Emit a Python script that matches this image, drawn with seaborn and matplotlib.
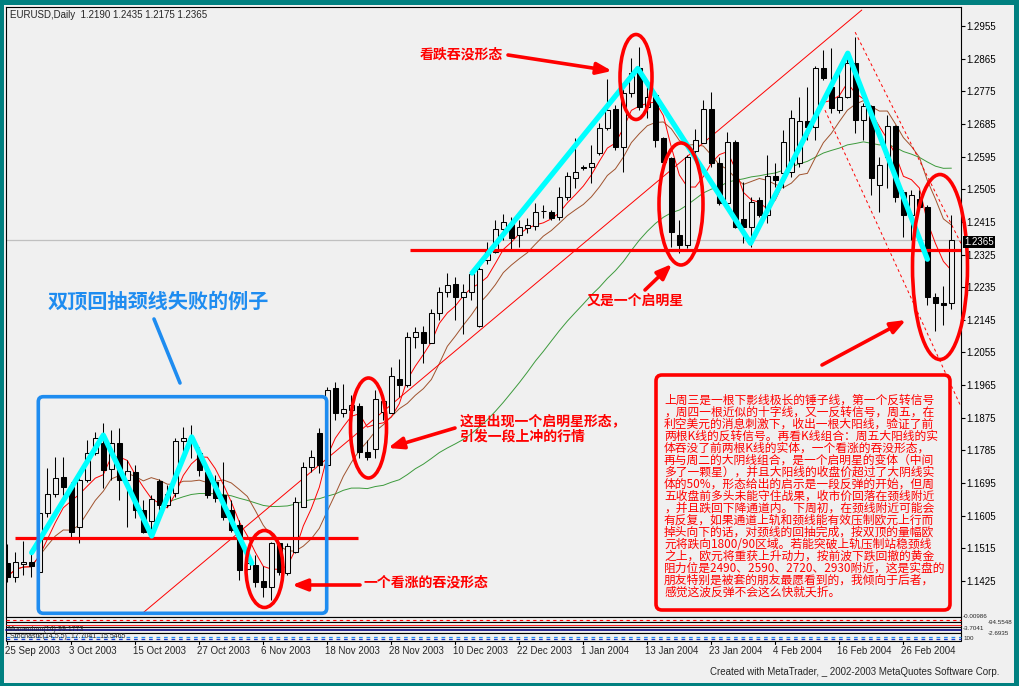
import numpy as np
import pandas as pd
import matplotlib
matplotlib.use('Agg')
import matplotlib.pyplot as plt
from matplotlib.patches import Ellipse, FancyBboxPatch, Rectangle
import seaborn as sns

# EURUSD daily, 25 Sep 2003 .. 27 Feb 2004
opens = [1.1474, 1.1437, 1.1473, 1.1476, 1.1451, 1.1612, 1.1664, 1.1711, 1.1683, 1.1575,
         1.1703, 1.1777, 1.1806, 1.1733, 1.1806, 1.1703, 1.1726, 1.1621, 1.1589, 1.1701,
         1.1635, 1.1667, 1.1812, 1.1818, 1.1777, 1.1726, 1.1699, 1.1662, 1.1621, 1.1579,
         1.1458, 1.1469, 1.1425, 1.1409, 1.1529, 1.1448, 1.1506, 1.1630, 1.1740, 1.1832,
         1.1745, 1.1956, 1.1889, 1.1896, 1.1907, 1.1781, 1.1790, 1.1890, 1.1889, 1.1983,
         1.1965, 1.2098, 1.2112, 1.2082, 1.2164, 1.2222, 1.2243, 1.2207, 1.2222, 1.2128,
         1.2309, 1.2332, 1.2394, 1.2410, 1.2379, 1.2397, 1.2404, 1.2444, 1.2443, 1.2429,
         1.2484, 1.2535, 1.2564, 1.2565, 1.2604, 1.2673, 1.2725, 1.2622, 1.2769, 1.2838,
         1.2733, 1.2765, 1.2645, 1.2590, 1.2379, 1.2351, 1.2610, 1.2633, 1.2725, 1.2576,
         1.2466, 1.2636, 1.2422, 1.2402, 1.2475, 1.2434, 1.2541, 1.2549, 1.2553, 1.2576,
         1.2694, 1.2677, 1.2838, 1.2788, 1.2723, 1.2760, 1.2852, 1.2696, 1.2734, 1.2517,
         1.2595, 1.2678, 1.2498, 1.2434, 1.2477, 1.2457, 1.2209, 1.2190, 1.2190]
highs = [1.1526, 1.1506, 1.1535, 1.1501, 1.1616, 1.1736, 1.1768, 1.1766, 1.1699, 1.1717,
         1.1814, 1.1837, 1.1860, 1.1841, 1.1846, 1.1759, 1.1745, 1.1648, 1.1662, 1.1705,
         1.1690, 1.1818, 1.1850, 1.1855, 1.1795, 1.1740, 1.1717, 1.1754, 1.1648, 1.1593,
         1.1497, 1.1497, 1.1465, 1.1533, 1.1533, 1.1529, 1.1657, 1.1754, 1.1786, 1.1846,
         1.1960, 1.1974, 1.1969, 1.1937, 1.1916, 1.1813, 1.1951, 1.1930, 1.2015, 1.2038,
         1.2112, 1.2126, 1.2127, 1.2176, 1.2236, 1.2273, 1.2263, 1.2245, 1.2282, 1.2305,
         1.2360, 1.2420, 1.2438, 1.2429, 1.2420, 1.2425, 1.2466, 1.2462, 1.2448, 1.2512,
         1.2553, 1.2645, 1.2572, 1.2627, 1.2687, 1.2808, 1.2737, 1.2792, 1.2866, 1.2898,
         1.2788, 1.2769, 1.2650, 1.2595, 1.2420, 1.2599, 1.2672, 1.2751, 1.2774, 1.2595,
         1.2664, 1.2641, 1.2526, 1.2484, 1.2484, 1.2599, 1.2576, 1.2668, 1.2723, 1.2760,
         1.2788, 1.2845, 1.2889, 1.2893, 1.2825, 1.2880, 1.2926, 1.2742, 1.2737, 1.2595,
         1.2710, 1.2682, 1.2503, 1.2503, 1.2503, 1.2462, 1.2218, 1.2238, 1.2435]
lows = [1.1423, 1.1423, 1.1442, 1.1437, 1.1446, 1.1602, 1.1657, 1.1662, 1.1547, 1.1529,
        1.1699, 1.1772, 1.1680, 1.1703, 1.1648, 1.1575, 1.1598, 1.1556, 1.1561, 1.1621,
        1.1630, 1.1657, 1.1777, 1.1763, 1.1713, 1.1653, 1.1644, 1.1593, 1.1561, 1.1428,
        1.1455, 1.1409, 1.1382, 1.1373, 1.1442, 1.1442, 1.1503, 1.1630, 1.1726, 1.1722,
        1.1740, 1.1868, 1.1877, 1.1887, 1.1763, 1.1758, 1.1763, 1.1870, 1.1887, 1.1933,
        1.1960, 1.2066, 1.2025, 1.2080, 1.2144, 1.2208, 1.2144, 1.2107, 1.2199, 1.2126,
        1.2300, 1.2328, 1.2365, 1.2337, 1.2347, 1.2383, 1.2393, 1.2425, 1.2420, 1.2420,
        1.2475, 1.2507, 1.2558, 1.2521, 1.2599, 1.2668, 1.2613, 1.2553, 1.2760, 1.2723,
        1.2700, 1.2622, 1.2567, 1.2347, 1.2328, 1.2342, 1.2590, 1.2632, 1.2567, 1.2462,
        1.2457, 1.2397, 1.2356, 1.2347, 1.2429, 1.2411, 1.2512, 1.2507, 1.2540, 1.2567,
        1.2641, 1.2641, 1.2806, 1.2714, 1.2714, 1.2756, 1.2659, 1.2641, 1.2489, 1.2443,
        1.2508, 1.2471, 1.2374, 1.2365, 1.2448, 1.2186, 1.2115, 1.2131, 1.2175]
closes = [1.1437, 1.1476, 1.1477, 1.1467, 1.1612, 1.1664, 1.1708, 1.1683, 1.1561, 1.1703,
          1.1777, 1.1818, 1.1731, 1.1806, 1.1703, 1.1728, 1.1621, 1.1561, 1.1650, 1.1635,
          1.1665, 1.1812, 1.1818, 1.1808, 1.1731, 1.1662, 1.1653, 1.1602, 1.1566, 1.1455,
          1.1474, 1.1423, 1.1408, 1.1529, 1.1451, 1.1520, 1.1644, 1.1740, 1.1768, 1.1745,
          1.1951, 1.1889, 1.1898, 1.1911, 1.1781, 1.1767, 1.1926, 1.1920, 1.1991, 1.1965,
          1.2098, 1.2112, 1.2080, 1.2164, 1.2222, 1.2242, 1.2207, 1.2222, 1.2270, 1.2284,
          1.2332, 1.2394, 1.2415, 1.2370, 1.2400, 1.2406, 1.2441, 1.2445, 1.2425, 1.2484,
          1.2542, 1.2553, 1.2565, 1.2578, 1.2673, 1.2723, 1.2622, 1.2769, 1.2825, 1.2733,
          1.2760, 1.2641, 1.2581, 1.2388, 1.2351, 1.2595, 1.2640, 1.2725, 1.2576, 1.2466,
          1.2636, 1.2402, 1.2402, 1.2471, 1.2434, 1.2541, 1.2530, 1.2636, 1.2700, 1.2694,
          1.2677, 1.2838, 1.2813, 1.2728, 1.2760, 1.2852, 1.2696, 1.2734, 1.2535, 1.2572,
          1.2678, 1.2484, 1.2434, 1.2489, 1.2457, 1.2209, 1.2190, 1.2185, 1.2365]

date_labels = ['25 Sep 2003', '3 Oct 2003', '15 Oct 2003', '27 Oct 2003', '6 Nov 2003',
               '18 Nov 2003', '28 Nov 2003', '10 Dec 2003', '22 Dec 2003', '1 Jan 2004',
               '13 Jan 2004', '23 Jan 2004', '4 Feb 2004', '16 Feb 2004', '26 Feb 2004']
price_ticks = [1.1425 + 0.009 * i for i in range(18)]
strip_labels = ['-0.00986', '-94.5548', '-3.7041', '-2.6935', '100']

# drawn lines: double tops (bar, price), necklines, trend / channel lines
cyan_left_x = [3.05, 12.0, 18.05, 23.05, 30.55]
cyan_left_y = [1.1503, 1.1827, 1.1549, 1.1822, 1.1474]
cyan_right_x = [58.1, 78.8, 92.9, 105.05, 115.0]
cyan_right_y = [1.2274, 1.2838, 1.2356, 1.2880, 1.2312]
neck_low, neck_high, last_price = 1.1544, 1.2337, 1.2365
trend_x, trend_y = [16.96, 106.8], [1.1337, 1.2999]
chan1_x, chan1_y = [105.97, 119.3], [1.2938, 1.2351]
chan2_x, chan2_y = [102.2, 119.1], [1.2723, 1.1910]

note_lines = [
    '上周三是一根下影线极长的锤子线，第一个反转信号',
    '，周四一根近似的十字线，又一反转信号，周五，在',
    '利空美元的消息刺激下，收出一根大阳线，验证了前',
    '两根K线的反转信号。再看K线组合：周五大阳线的实',
    '体吞没了前两根K线的实体，一个看涨的吞没形态，',
    '再与周二的大阴线组合，是一个启明星的变体（中间',
    '多了一颗星），并且大阳线的收盘价超过了大阴线实',
    '体的50%，形态给出的启示是一段反弹的开始，但周',
    '五收盘前多头未能守住战果，收市价回落在颈线附近',
    '，并且跌回下降通道内。下周初，在颈线附近可能会',
    '有反复，如果通道上轨和颈线能有效压制欧元上行而',
    '掉头向下的话，对颈线的回抽完成，按双顶的量幅欧',
    '元将跌向1800/90区域。若能突破上轨压制站稳颈线',
    '之上，欧元将重获上升动力，按前波下跌回撤的黄金',
    '阻力位是2490、2590、2720、2930附近，这是实盘的',
    '朋友特别是被套的朋友最愿看到的，我倾向于后者，',
    '感觉这波反弹不会这么快就夭折。',
]

sns.set_style('white')
plt.rcParams['font.family'] = ['Liberation Sans', 'Noto Sans CJK SC']
CJK = ['Noto Sans CJK SC', 'DejaVu Sans']
BG = '#F0F0F0'
RED = '#FF0000'
BLUE = '#1E8CF0'

df = pd.DataFrame({'bar': np.arange(len(closes)), 'open': opens, 'high': highs,
                   'low': lows, 'close': closes})
df['ma5'] = df.close.rolling(5, min_periods=1).mean()
df['ma10'] = df.close.rolling(10, min_periods=1).mean()
df['ma34'] = df.close.rolling(34, min_periods=20).mean()

fig = plt.figure(figsize=(10.2, 6.86), dpi=100, facecolor='#008080')
bg = fig.add_axes([0, 0, 1, 1], zorder=0)
bg.set_xlim(0, 1020); bg.set_ylim(686, 0); bg.axis('off')
bg.add_patch(Rectangle((4, 5), 1010, 678, fc=BG, ec='none'))

ax = fig.add_axes([6 / 1020, 1 - 617 / 686, 955 / 1020, 610 / 686], zorder=1)
ax.set_facecolor(BG)
ax.set_xlim(-0.16, 119.2)
ax.set_ylim(1.13256, 1.30074)
for s in ax.spines.values():
    s.set_color('black'); s.set_linewidth(0.8)

ax.axhline(last_price, color='#C0C0C0', lw=0.9, zorder=1)

# moving averages
sns.lineplot(data=df, x='bar', y='ma34', ax=ax, color='#3C9A3C', lw=0.7, zorder=2)
sns.lineplot(data=df, x='bar', y='ma10', ax=ax, color='#A0522D', lw=0.7, zorder=2)
sns.lineplot(data=df, x='bar', y='ma5', ax=ax, color=RED, lw=0.7, zorder=2)
ax.plot(trend_x, trend_y, color=RED, lw=0.7, zorder=2)
ax.plot(chan1_x, chan1_y, color=RED, lw=0.7, ls=(0, (3, 3)), zorder=2)
ax.plot(chan2_x, chan2_y, color=RED, lw=0.7, ls=(0, (3, 3)), zorder=2)

# candles
up = df.close >= df.open
ax.vlines(df.bar, df.low, df.high, color='black', lw=0.75, zorder=3)
body_lo = np.minimum(df.open, df.close)
body_h = np.maximum((df.close - df.open).abs(), 0.00012)
ax.bar(df.bar, body_h, bottom=body_lo, width=0.62,
       color=np.where(up, BG, 'black'), edgecolor='black', lw=0.75, zorder=4)

ax.hlines(neck_low, 0.96, 43.8, color=RED, lw=2.3, zorder=6)
ax.hlines(neck_high, 50.3, 119.2, color=RED, lw=2.3, zorder=6)
ax.plot(cyan_left_x, cyan_left_y, color='#00FFFF', lw=3.8, zorder=7)
ax.plot(cyan_right_x, cyan_right_y, color='#00FFFF', lw=3.8, zorder=7)

ax.set_xlabel(''); ax.set_ylabel('')
ax.set_xticks([])
ax.yaxis.tick_right()
ax.set_yticks(price_ticks)
ax.set_yticklabels(['%.4f' % p for p in price_ticks], fontsize=7)
ax.tick_params(axis='y', direction='out', length=3, width=0.8, pad=0.5, colors='black', right=True)

# pixel-space overlay for annotations
ov = fig.add_axes([0, 0, 1, 1], zorder=3)
ov.set_xlim(0, 1020); ov.set_ylim(686, 0); ov.axis('off'); ov.patch.set_alpha(0)

ov.text(10, 15, 'EURUSD,Daily  1.2190 1.2435 1.2175 1.2365', fontsize=7, va='center')
ov.text(964, 242, '1.2365', fontsize=7, color='white', va='center',
        bbox=dict(boxstyle='square,pad=0.15', fc='black', ec='none'))

for cx, cy, w, h in [(636, 77, 32, 85), (681, 204, 44, 122), (264.5, 569, 37, 77),
                     (368.5, 428, 36, 100), (940, 267, 55, 185)]:
    ov.add_patch(Ellipse((cx, cy), w, h, fill=False, ec=RED, lw=2.6))

for tail, head in [((508, 55), (612, 71)), ((645, 290), (672, 264)), ((455, 428), (388, 448)),
                   ((360, 585), (292, 585)), ((822, 365), (906, 320))]:
    ov.annotate('', xy=head, xytext=tail,
                arrowprops=dict(arrowstyle='-|>,head_length=0.9,head_width=0.35',
                                color=RED, lw=2.6, shrinkA=0, shrinkB=0))

for txt, x, y in [('看跌吞没形态', 420, 55), ('又是一个启明星', 587, 301),
                  ('这里出现一个启明星形态，', 460, 421), ('引发一段上冲的行情', 460, 437),
                  ('一个看涨的吞没形态', 363, 583)]:
    ov.text(x, y, txt, family=CJK, fontsize=10, fontweight='bold', color=RED, va='center')

ov.text(48, 301, '双顶回抽颈线失败的例子', family=CJK, fontsize=14.5, fontweight='bold',
        color=BLUE, va='center')
ov.plot([154, 180], [319, 383], color=BLUE, lw=2.6)
ov.add_patch(FancyBboxPatch((38.3, 396.7), 288.4, 216.6, boxstyle='round,pad=0,rounding_size=5',
                            fc='none', ec=BLUE, lw=2.6))

ov.add_patch(FancyBboxPatch((656, 375), 294, 235, boxstyle='round,pad=0,rounding_size=6',
                            fc=BG, ec=RED, lw=2.6))
for i, line in enumerate(note_lines):
    ov.text(664, 400 + 12 * i, line, family=CJK, fontsize=8.5, color=RED, va='center')

# indicator strips under the main window
strips = [617, 622, 627, 633, 641]
for top, bot in zip(strips[:-1], strips[1:]):
    ov.add_patch(Rectangle((6, top), 955, bot - top, fc=BG, ec='black', lw=0.8))
ov.plot([6, 961], [620, 620], color=RED, lw=0.8, ls=(0, (3, 3)))
ov.plot([6, 961], [624.5, 624.5], color=RED, lw=0.6)
ov.plot([6, 961], [630, 630], color='#000080', lw=1.2)
ov.plot([6, 961], [636.5, 636.5], color=BLUE, lw=0.9, ls=(0, (3, 3)))
ov.plot([6, 961], [639, 639], color='#2040D0', lw=0.9, ls=(0, (3, 3)))
ov.text(8, 629.5, 'Momentum(14) 99.1773', fontsize=5, va='center')
ov.text(10, 637, 'Stochastic(14,5,5)  17.7041  15.5465', fontsize=5, va='center')
for i, lab in enumerate(strip_labels):
    ov.text(963 + 25 * (i % 2), 617 + 5.5 * i, lab, fontsize=4.5, va='center')

for i, lab in enumerate(date_labels):
    x = 7.3 + 64 * i
    ov.plot([x, x], [641, 644], color='black', lw=0.8)
    ov.text(x - 2, 651, lab, fontsize=7, va='center')

ov.text(999, 672, 'Created with MetaTrader, _ 2002-2003 MetaQuotes Software Corp.',
        fontsize=7, ha='right', va='center')

fig.savefig('out.png', dpi=100, facecolor=fig.get_facecolor())
